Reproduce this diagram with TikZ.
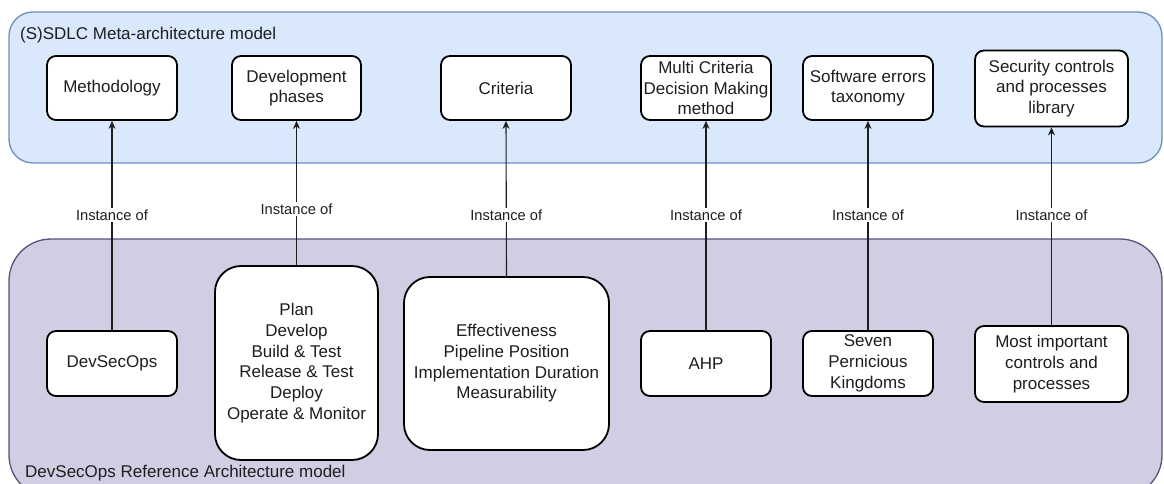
\documentclass[tikz,border=0pt]{standalone}
\usepackage{fontspec}
\setmainfont{Liberation Sans}
\usetikzlibrary{arrows.meta}
\definecolor{metafill}{HTML}{DAE8FC}
\definecolor{metaline}{HTML}{6C8EBF}
\definecolor{refill}{HTML}{D0CEE2}
\definecolor{refline}{HTML}{56517E}
\definecolor{ink}{HTML}{1E1E1E}
\tikzset{
  container/.style={draw, line width=1.3pt, inner sep=0pt},
  conttitle/.style={anchor=west, inner sep=0pt, text=ink,
    font=\fontsize{17}{20.7}\selectfont},
  itembox/.style={draw=black, line width=1.8pt, fill=white, rounded corners=9pt,
    align=center, inner sep=2pt, text=ink,
    font=\fontsize{17}{20.7}\selectfont},
  bigbox/.style={itembox, rounded corners=26pt},
  instarrow/.style={draw=ink, line width=1.1pt, -{Stealth[length=8pt,width=7pt]}},
  instlabel/.style={fill=white, inner sep=1.5pt, text=ink,
    font=\fontsize{14.7}{17}\selectfont},
}
\begin{document}
\begin{tikzpicture}[x=1pt,y=-1pt]
\useasboundingbox (0,0) rectangle (1164,484);
\fill[white] (0,0) rectangle (1164,484);

% the two model layers
\node[container, draw=metaline, fill=metafill, rounded corners=24pt,
  minimum width=1153pt, minimum height=151pt] (meta) at (585.5,87.5) {};
\node[container, draw=refline, fill=refill, rounded corners=42pt,
  minimum width=1153pt, minimum height=258pt] (ref) at (585.5,368) {};
\node[conttitle] (metatitle) at (20,35) {(S)SDLC Meta-architecture model};
\node[conttitle] (reftitle) at (25,473) {DevSecOps Reference Architecture model};

% meta-architecture concepts
\node[itembox, minimum width=130pt, minimum height=64pt] (method) at (112,88) {Methodology};
\node[itembox, minimum width=129pt, minimum height=64pt] (phases) at (296.5,88) {Development\\phases};
\node[itembox, minimum width=130pt, minimum height=64pt] (crit) at (506,88) {Criteria};
\node[itembox, minimum width=130pt, minimum height=64pt, inner sep=0pt] (mcdm) at (706,88) {Multi Criteria\\Decision Making\\method};
\node[itembox, minimum width=130pt, minimum height=64pt] (taxo) at (868,88) {Software errors\\taxonomy};
\node[itembox, minimum width=153pt, minimum height=76pt] (lib) at (1051.5,88.5) {Security controls\\and processes\\library};

% reference-architecture instances
\node[itembox, minimum width=130pt, minimum height=65pt] (dso) at (112,363.5) {DevSecOps};
\node[bigbox, minimum width=163pt, minimum height=194pt] (plan) at (296.5,363) {Plan\\Develop\\Build \& Test\\Release \& Test\\Deploy\\Operate \& Monitor};
\node[bigbox, minimum width=205pt, minimum height=173pt] (eff) at (506.5,363.5) {Effectiveness\\Pipeline Position\\Implementation Duration\\Measurability};
\node[itembox, minimum width=130pt, minimum height=65pt] (ahp) at (706,363.5) {AHP};
\node[itembox, minimum width=130pt, minimum height=65pt] (spk) at (868,363.5) {Seven\\Pernicious\\Kingdoms};
\node[itembox, minimum width=153pt, minimum height=76pt] (mic) at (1051.5,364) {Most important\\controls and\\processes};

% instance-of relations
\draw[instarrow] (dso.north) -- node[instlabel, pos=0.55] {Instance of} (method.south);
\draw[instarrow] (plan.north) -- node[instlabel, pos=0.39] {Instance of} (phases.south);
\draw[instarrow] (eff.north) -- node[instlabel, pos=0.395] {Instance of} (crit.south);
\draw[instarrow] (ahp.north) -- node[instlabel, pos=0.55] {Instance of} (mcdm.south);
\draw[instarrow] (spk.north) -- node[instlabel, pos=0.55] {Instance of} (taxo.south);
\draw[instarrow] (mic.north) -- node[instlabel, pos=0.558] {Instance of} (lib.south);
\end{tikzpicture}
\end{document}
